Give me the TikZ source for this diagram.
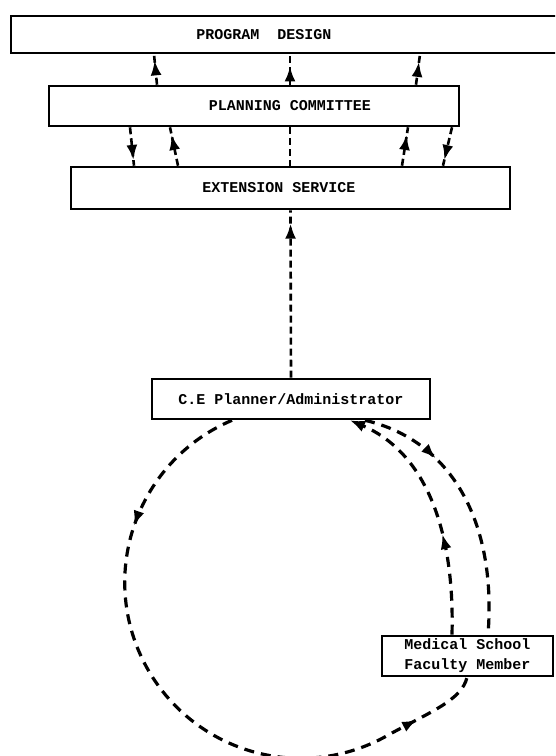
\documentclass[tikz,border=0pt]{standalone}
\usepackage{fontspec}
\setmonofont{Liberation Mono}
\usetikzlibrary{arrows.meta}
\usetikzlibrary{decorations.markings}

\begin{document}
\begin{tikzpicture}[x=1pt, y=-1pt,
	box/.style={draw, line width=2.6pt, inner sep=0pt},
	boxtext/.style={font=\ttfamily\bfseries\fontsize{15}{20}\selectfont},
	link/.style={line width=2.6pt, dash pattern=on 7pt off 4pt},
	ring/.style={line width=3.2pt, dash pattern=on 10pt off 7pt},
	head at/.style={postaction={decorate, decoration={markings, mark=at position #1 with {\arrow{Latex[length=15pt,width=11pt]}}}}}]
		\clip (0,0) rectangle (555,756);
		\node [box, minimum width=551, minimum height=37] (pd) at (286.5,34.5) {};
		\node [boxtext] (pdtext) at (264,35) {PROGRAM\ \ DESIGN};
		\node [box, minimum width=410, minimum height=40] (pc) at (254,106) {};
		\node [boxtext] (pctext) at (290,106) {PLANNING COMMITTEE};
		\node [box, minimum width=439, minimum height=42] (es) at (290.5,188) {};
		\node [boxtext] (estext) at (279,188) {EXTENSION SERVICE};
		\node [box, boxtext, minimum width=278, minimum height=40] (ce) at (291,399) {C.E Planner/Administrator};
		\node [box, boxtext, align=left, minimum width=171, minimum height=40] (med) at (467.5,656) {Medical School\\Faculty Member};
		\draw [link, head at=0.8] (157,0 |- pc.north) -- (154,0 |- pd.south);
		\draw [link, head at=0.6] (290,0 |- pc.north) -- (290,0 |- pd.south);
		\draw [link, head at=0.75] (416,0 |- pc.north) -- (420,0 |- pd.south);
		\draw [link, head at=0.85] (130,0 |- pc.south) -- (134,0 |- es.north);
		\draw [link, head at=0.8] (178,0 |- es.north) -- (170,0 |- pc.south);
		\draw [link] (290,0 |- pc.south) -- (290,0 |- es.north);
		\draw [link, head at=0.8] (402,0 |- es.north) -- (408,0 |- pc.south);
		\draw [link, head at=0.85] (452,0 |- pc.south) -- (443,0 |- es.north);
		\draw [link, head at=0.92] (ce.north) -- (es.south);
		\draw [ring, head at=0.22, head at=0.9] (232,0 |- ce.south) arc [start angle=247, end angle=60, radius=176] .. controls (430,712) and (462,700) .. (467,0 |- med.south);
		\draw [ring, head at=0.4, -{Latex[length=15pt,width=12pt]}] (452,0 |- med.north) .. controls (455,520) and (420,450) .. (350,0 |- ce.south);
		\draw [ring, head at=0.3] (365,0 |- ce.south) .. controls (450,440) and (497,520) .. (488,0 |- med.north);
\end{tikzpicture}
\end{document}
